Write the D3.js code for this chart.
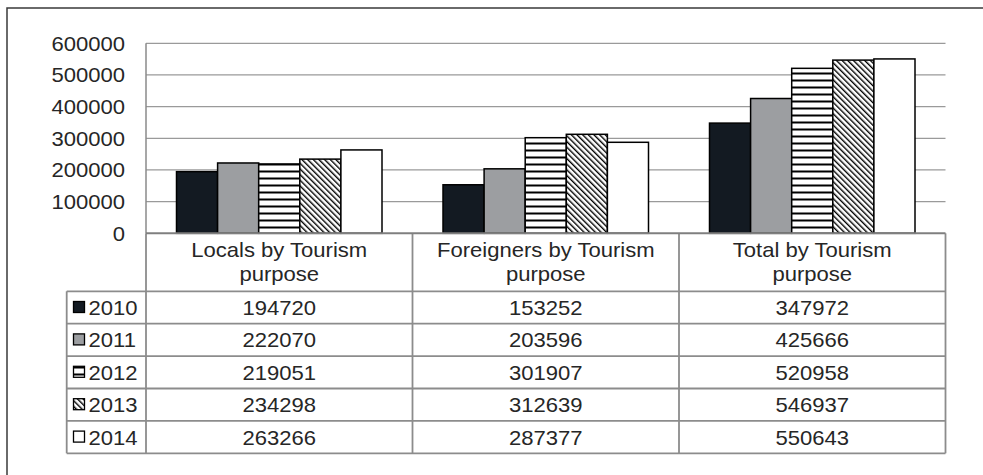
<!DOCTYPE html>
<html>
<head>
<meta charset="utf-8">
<script src="https://cdn.jsdelivr.net/npm/d3@7"></script>
<style>
  html, body { margin: 0; padding: 0; background: #fff; }
  svg { display: block; }
  text { font-family: "Liberation Sans", Arial, sans-serif; fill: #262626; }
</style>
</head>
<body>
<svg id="chart" width="983" height="475"></svg>
<script>
const categories = ["Locals by Tourism purpose", "Foreigners by Tourism purpose", "Total by Tourism purpose"];
const years = ["2010", "2011", "2012", "2013", "2014"];
const values2010 = [194720, 153252, 347972];
const values2011 = [222070, 203596, 425666];
const values2012 = [219051, 301907, 520958];
const values2013 = [234298, 312639, 546937];
const values2014 = [263266, 287377, 550643];
const yTicks = [0, 100000, 200000, 300000, 400000, 500000, 600000];

(function () {
const series = [values2010, values2011, values2012, values2013, values2014];

const svg = d3.select("#chart");
const defs = svg.append("defs");

// patterns
const pH = defs.append("pattern").attr("id", "hlines").attr("patternUnits", "userSpaceOnUse")
  .attr("width", 8).attr("height", 7);
pH.append("rect").attr("width", 8).attr("height", 7).attr("fill", "#fff");
pH.append("rect").attr("y", 2.5).attr("width", 8).attr("height", 2).attr("fill", "#000");

const pD = defs.append("pattern").attr("id", "dlines").attr("patternUnits", "userSpaceOnUse")
  .attr("width", 4).attr("height", 4).attr("patternTransform", "rotate(-45)");
pD.append("rect").attr("width", 4).attr("height", 4).attr("fill", "#fff");
pD.append("rect").attr("x", 0).attr("width", 1.4).attr("height", 4).attr("fill", "#000");

const fills = ["#131a22", "#9c9ea1", "url(#hlines)", "url(#dlines)", "#ffffff"];

const pLeft = 146, pRight = 945.5, pTop = 43.3, pBottom = 233.3;
const rowH = 32.4, headerH = 58, legendLeft = 66.7;
const fontSize = 21, sx = 1.05;

const x0 = d3.scaleBand().domain(categories).range([pLeft, pRight]).padding(0);
const x1 = d3.scaleBand().domain(years).range([30.5, x0.bandwidth() - 30.5]).padding(0);
const y = d3.scaleLinear().domain([0, 600000]).range([pBottom, pTop]);

function txt(g, x, yy, s, anchor) {
  return g.append("text")
    .attr("transform", `translate(${x},${yy}) scale(${sx},1)`)
    .attr("text-anchor", anchor || "middle")
    .attr("font-size", fontSize)
    .text(s);
}

// outer border
svg.append("path").attr("d", "M7,475 L7,8 L983,8").attr("fill", "none")
  .attr("stroke", "#3a3a3a").attr("stroke-width", 1.5);

// gridlines
const grid = svg.append("g");
grid.selectAll("line").data(yTicks.filter(d => d > 0)).join("line")
  .attr("x1", pLeft).attr("x2", pRight)
  .attr("y1", d => y(d)).attr("y2", d => y(d))
  .attr("stroke", "#9a9a9a").attr("stroke-width", 1.3);

// y axis line
svg.append("line").attr("x1", pLeft).attr("x2", pLeft).attr("y1", pTop).attr("y2", pBottom)
  .attr("stroke", "#8a8a8a").attr("stroke-width", 1.5);

// y tick labels
const yl = svg.append("g");
yTicks.forEach(t => {
  txt(yl, 125, y(t) + 7.5, String(t), "end");
});

// bars
const barsG = svg.append("g");
categories.forEach((c, ci) => {
  years.forEach((yr, si) => {
    const v = series[si][ci];
    barsG.append("rect")
      .attr("x", x0(c) + x1(yr))
      .attr("y", y(v))
      .attr("width", x1.bandwidth())
      .attr("height", y(0) - y(v))
      .attr("fill", fills[si])
      .attr("stroke", "#000")
      .attr("stroke-width", 1.5);
  });
});

// table
const tbl = svg.append("g");
const tableTop = pBottom;
const headBottom = tableTop + headerH;
const tableBottom = headBottom + rowH * years.length;
const lineColor = "#8c8c8c", lw = 1.8;

const colEdges = categories.map(c => x0(c)).concat([pRight]);
colEdges.forEach(xe => {
  tbl.append("line").attr("x1", xe).attr("x2", xe).attr("y1", tableTop).attr("y2", tableBottom)
    .attr("stroke", lineColor).attr("stroke-width", lw);
});
tbl.append("line").attr("x1", legendLeft).attr("x2", legendLeft).attr("y1", headBottom).attr("y2", tableBottom)
  .attr("stroke", lineColor).attr("stroke-width", lw);
for (let i = 0; i <= years.length; i++) {
  const yy = headBottom + i * rowH;
  tbl.append("line").attr("x1", legendLeft).attr("x2", pRight).attr("y1", yy).attr("y2", yy)
    .attr("stroke", lineColor).attr("stroke-width", lw);
}

// axis baseline (top of table)
svg.append("line").attr("x1", pLeft).attr("x2", pRight).attr("y1", pBottom).attr("y2", pBottom)
  .attr("stroke", "#7f7f7f").attr("stroke-width", 2);

// header text
categories.forEach(c => {
  const idx = c.lastIndexOf(" ");
  const l1 = c.slice(0, idx), l2 = c.slice(idx + 1);
  const cx = x0(c) + x0.bandwidth() / 2;
  txt(tbl, cx, 257, l1);
  txt(tbl, cx, 281, l2);
});

// rows
years.forEach((yr, si) => {
  const rowTop = headBottom + si * rowH;
  const cy = rowTop + rowH / 2;
  tbl.append("rect").attr("x", 73.5).attr("y", cy - 6).attr("width", 11).attr("height", 11)
    .attr("fill", fills[si]).attr("stroke", "#000").attr("stroke-width", 1.3);
  txt(tbl, 88.5, cy + 7.5, yr, "start");
  categories.forEach((c, ci) => {
    txt(tbl, x0(c) + x0.bandwidth() / 2, cy + 7.5, String(series[si][ci]));
  });
});
})();
</script>
</body>
</html>
